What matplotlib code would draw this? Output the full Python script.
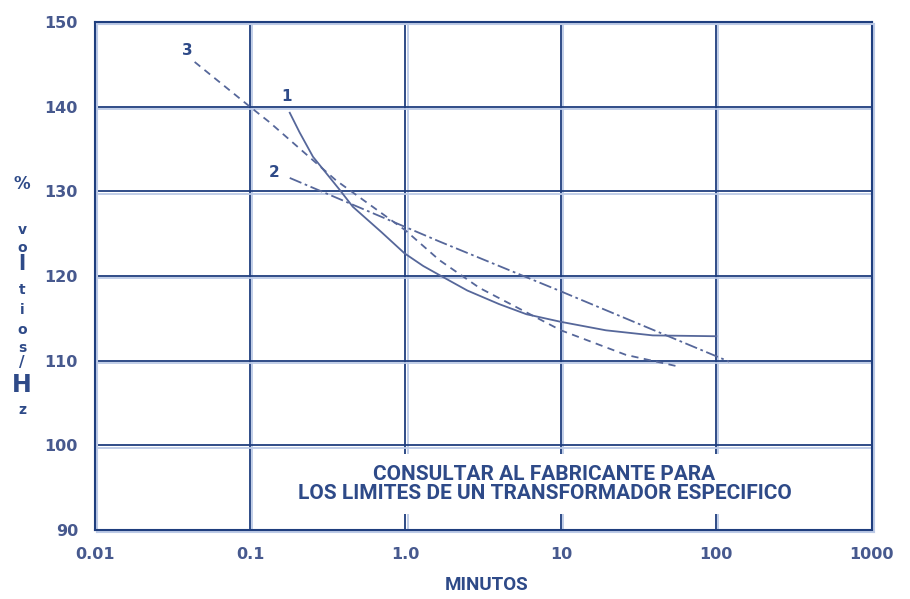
#!/usr/bin/env python3
import matplotlib
matplotlib.use("Agg")
import matplotlib.pyplot as plt
import matplotlib.patheffects as pe

# curve data (minutes, % volts/Hz)
c1_x = [0.18, 0.208, 0.254, 0.377, 0.458, 0.7, 0.985, 1.3, 1.74, 2.5, 4.0, 6.0, 10.0, 19.5, 39.0, 100.0]
c1_y = [139.3, 137.0, 134.1, 130.2, 128.2, 125.2, 122.7, 121.2, 119.9, 118.3, 116.7, 115.5, 114.6, 113.6, 113.0, 112.9]

c2_x = [0.18, 1.0, 1.65, 10.0, 121.0]
c2_y = [131.6, 125.8, 124.1, 118.2, 109.9]

c3_x = [0.044, 0.1, 0.133, 0.358, 1.0, 1.65, 3.0, 10.0, 26.2, 57.8]
c3_y = [145.3, 140.0, 138.2, 131.3, 125.4, 121.9, 118.6, 113.6, 110.7, 109.3]

labels = ["1", "2", "3"]
label_x = [0.172, 0.143, 0.0396]
label_y = [141.2, 132.3, 146.7]

x_ticks = [0.01, 0.1, 1.0, 10, 100, 1000]
x_tick_labels = ["0.01", "0.1", "1.0", "10", "100", "1000"]
y_ticks = [90, 100, 110, 120, 130, 140, 150]

ylabel_chars = ["%", "v", "o", "l", "t", "i", "o", "s", "/", "H", "z"]
ylabel_pos = [184, 230, 248, 264, 290, 310, 330, 348, 363, 385, 410]
ylabel_size = [12, 10, 10, 15, 10, 10, 10, 10, 11, 17, 10]

note = "CONSULTAR AL FABRICANTE PARA\nLOS LIMITES DE UN TRANSFORMADOR ESPECIFICO"

dark = "#1f3e7e"
curve_col = "#56679a"
text_col = "#2e4a88"
shadow = [pe.SimpleLineShadow(offset=(1.5, -1.5), shadow_color="#bccae6", alpha=1.0), pe.Normal()]

fig = plt.figure(figsize=(9.1, 5.99), dpi=100)
ax = fig.add_axes([0.104, 0.115, 0.854, 0.848])
ax.set_xscale("log")
ax.set_xlim(0.01, 1000)
ax.set_ylim(90, 150)

# grid lines drawn by hand so they get the light shadow
for xv in x_ticks[1:-1]:
    ax.axvline(xv, color=dark, lw=1.3, path_effects=shadow, zorder=1)
for yv in y_ticks[1:-1]:
    ax.axhline(yv, color=dark, lw=1.3, path_effects=shadow, zorder=1)
for s in ax.spines.values():
    s.set_color(dark)
    s.set_linewidth(1.5)
    s.set_path_effects(shadow)

ax.plot(c1_x, c1_y, color=curve_col, lw=1.3, zorder=3)
ax.plot(c2_x, c2_y, color=curve_col, lw=1.3, dashes=(7, 2, 1.5, 2), zorder=3)
ax.plot(c3_x, c3_y, color=curve_col, lw=1.3, dashes=(4, 3), zorder=3)

for t, lx, ly in zip(labels, label_x, label_y):
    ax.text(lx, ly, t, color=text_col, fontsize=11, fontweight="bold",
            ha="center", va="center", family="DejaVu Sans", zorder=4)

ax.text(7.83, 95.5, note, color=text_col, fontsize=15, fontweight="bold", family="Roboto",
        ha="center", va="center", linespacing=1.0, zorder=5,
        bbox=dict(facecolor="white", edgecolor="none", pad=8))

ax.set_xticks(x_ticks)
ax.set_xticklabels(x_tick_labels)
ax.set_yticks(y_ticks)
ax.minorticks_off()
ax.tick_params(length=0, pad=12, labelsize=11.5, labelcolor="#47598e")
for lab in ax.get_xticklabels() + ax.get_yticklabels():
    lab.set_fontweight("bold")
    lab.set_family("DejaVu Sans")

fig.text(487 / 910, 1 - 585 / 599, "MINUTOS", color=text_col, fontsize=13.5,
         fontweight="bold", family="Roboto", ha="center", va="center")

for ch, yp, sz in zip(ylabel_chars, ylabel_pos, ylabel_size):
    fig.text(22 / 910, 1 - yp / 599, ch, color=text_col, fontsize=sz,
             fontweight="bold", family="DejaVu Sans", ha="center", va="center")

fig.savefig("out.png", dpi=100)
